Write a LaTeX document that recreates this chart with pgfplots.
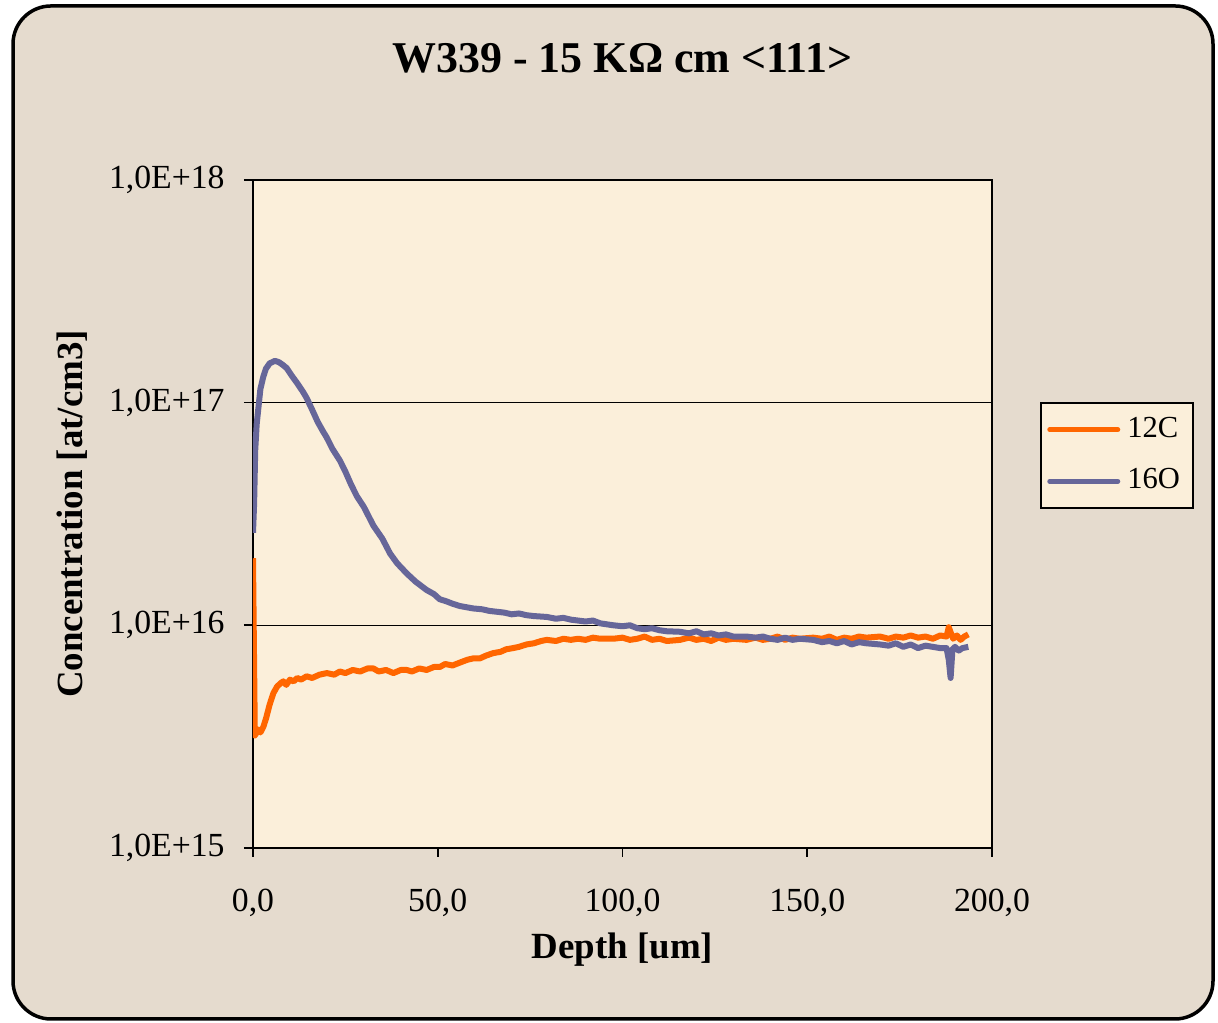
\documentclass[border=0pt]{standalone}
\usepackage{pgfplots}
\pgfplotsset{compat=1.18}
\usepackage{fontspec}
\setmainfont{Liberation Serif}
\definecolor{bgcol}{HTML}{E5DBCE}
\definecolor{plotbg}{HTML}{FBEFDA}
\definecolor{corange}{HTML}{FF6600}
\definecolor{oblue}{HTML}{666699}
\begin{document}
\begin{tikzpicture}
\path[use as bounding box] (0,0) rectangle (12.18cm,10.23cm);
\filldraw[fill=bgcol, draw=black, line width=0.035cm, rounded corners=0.38cm] (0.13cm,0.04cm) rectangle (12.13cm,10.17cm);
\begin{axis}[
  at={(2.53cm,1.75cm)}, anchor=south west,
  scale only axis, width=7.39cm, height=6.68cm,
  xmin=0, xmax=200, ymode=log, ymin=1e15, ymax=1e18,
  axis background/.style={fill=plotbg},
  axis line style={black, line width=0.8pt},
  xtick={0,50,100,150,200},
  xticklabels={{0,0},{50,0},{100,0},{150,0},{200,0}},
  ytick={1e15,1e16,1e17,1e18},
  yticklabels={{1,0E+15},{1,0E+16},{1,0E+17},{1,0E+18}},
  minor ytick={}, tick pos=left, tick align=outside,
  major tick length=0.09cm,
  every tick/.style={black, line width=0.5pt},
  ymajorgrids, major grid style={black, line width=0.4pt},
  log basis y=10,
  /pgf/number format/assume math mode=true,
  tick label style={font=\fontsize{9.6}{12}\selectfont},
  xticklabel style={yshift=-0.2cm},
  yticklabel style={xshift=-0.07cm},
  title={\textbf{W339 - 15 KΩ cm <111>}},
  title style={at={(axis description cs:0.5,1.151)}, anchor=center, font=\fontsize{12.5}{14}\selectfont},
  xlabel={\textbf{Depth [um]}},
  xlabel style={at={(axis description cs:0.5,-0.1527)}, anchor=center, font=\fontsize{10.5}{12}\selectfont},
  ylabel={\textbf{Concentration [at/cm3]}},
  ylabel style={at={(axis description cs:-0.245,0.5)}, anchor=center, rotate=0, font=\fontsize{10.5}{12}\selectfont},
  legend style={at={(1.065,0.668)}, anchor=north west, draw=black, line width=0.7pt, fill=plotbg,
    font=\fontsize{8.7}{10.5}\selectfont, inner xsep=0.06cm, inner ysep=0.07cm, row sep=0.12cm},
  legend cell align=left,
  legend image code/.code={\draw[#1, line width=0.05cm, line cap=round] (0cm,0cm) -- (0.68cm,0cm);},
]
\addplot[corange, line width=0.06cm, line join=round] coordinates {
(0.0,2.0e16) (0.5,0.32e16) (1.0,0.33e16) (1.5,0.34e16) (2.0,0.33e16) (2.8,0.35e16) (3.5,0.38e16)
(4.5,0.44e16) (5.5,0.495e16) (6.5,0.53e16) (7.5,0.55e16) (8.2,0.56e16) (9,0.54e16) (10,0.57e16)
(11,0.56e16) (12,0.58e16) (13,0.57e16) (14.5,0.59e16) (16,0.58e16) (18,0.60e16) (20,0.61e16)
(22,0.60e16) (23.5,0.62e16) (25,0.61e16) (27,0.63e16) (29,0.62e16) (31,0.64e16) (32.6,0.64e16)
(34,0.62e16) (36,0.63e16) (38,0.61e16) (40,0.63e16) (41.6,0.63e16) (43,0.62e16) (45,0.64e16)
(47,0.63e16) (49,0.65e16) (50.6,0.65e16) (52,0.67e16) (54,0.66e16) (56,0.68e16) (58,0.70e16)
(59.6,0.71e16) (61.4,0.71e16) (63,0.73e16) (65,0.75e16) (67,0.76e16) (68.5,0.78e16) (70.4,0.79e16)
(72,0.80e16) (74,0.82e16) (76,0.83e16) (78,0.85e16) (79.5,0.86e16) (82,0.85e16) (84,0.87e16)
(86,0.86e16) (88,0.87e16) (90,0.86e16) (92,0.88e16) (94,0.87e16) (97.5,0.87e16) (100,0.88e16)
(102,0.86e16) (104,0.87e16) (106,0.89e16) (108,0.86e16) (110,0.87e16) (112,0.85e16) (115.6,0.86e16)
(118,0.88e16) (120,0.86e16) (122,0.87e16) (124,0.85e16) (126,0.88e16) (128,0.86e16) (130,0.87e16)
(133.6,0.86e16) (136,0.88e16) (138,0.86e16) (140,0.87e16) (142,0.89e16) (144,0.86e16) (146,0.88e16)
(148,0.87e16) (151.6,0.88e16) (154,0.87e16) (156,0.89e16) (158,0.86e16) (160,0.88e16) (162,0.87e16)
(164,0.89e16) (166,0.88e16) (169.7,0.89e16) (172,0.87e16) (174,0.89e16) (176,0.88e16) (178,0.90e16)
(180,0.88e16) (182,0.89e16) (184,0.87e16) (186,0.90e16) (187.7,0.89e16) (188.3,0.98e16) (188.8,0.93e16)
(189.5,0.87e16) (190.5,0.90e16) (191.5,0.86e16) (192.5,0.89e16) (193.6,0.91e16)
};
\addlegendentry{12C}
\addplot[oblue, line width=0.06cm, line join=round] coordinates {
(0.0,2.6e16) (0.3,3.5e16) (0.6,6.1e16) (1.0,8.0e16) (1.5,9.6e16) (2.0,11.5e16) (2.8,13.1e16)
(3.5,14.2e16) (4.5,15.0e16) (5.9,15.4e16) (7.0,15.2e16) (8.0,14.8e16) (9.1,14.3e16) (10.5,13.2e16)
(12.0,12.2e16) (13.5,11.2e16) (14.5,10.5e16) (16,9.3e16) (17.5,8.2e16) (19,7.4e16) (19.9,7.0e16)
(21.5,6.2e16) (23.5,5.5e16) (25,4.9e16) (26.5,4.3e16) (28.1,3.8e16) (30,3.4e16) (32.6,2.8e16)
(35,2.45e16) (37.1,2.1e16) (39,1.9e16) (41.6,1.71e16) (44,1.57e16) (47,1.44e16) (49,1.38e16)
(50.5,1.31e16) (52.4,1.28e16) (54,1.25e16) (56,1.22e16) (59.6,1.19e16) (62,1.18e16) (64,1.16e16)
(66,1.15e16) (68,1.14e16) (70,1.12e16) (72,1.13e16) (74,1.11e16) (76,1.10e16) (79.5,1.09e16)
(82,1.07e16) (84,1.08e16) (86,1.06e16) (88,1.05e16) (90,1.04e16) (92,1.05e16) (94,1.02e16)
(97.5,1.00e16) (100,0.99e16) (102,1.00e16) (104,0.97e16) (106,0.96e16) (108,0.97e16) (110,0.95e16)
(112,0.94e16) (115.6,0.935e16) (118,0.92e16) (120,0.94e16) (122,0.91e16) (124,0.92e16) (126,0.90e16)
(128,0.91e16) (130,0.89e16) (133.6,0.89e16) (136,0.88e16) (138,0.89e16) (140,0.87e16) (142,0.86e16)
(144,0.88e16) (146,0.86e16) (148,0.87e16) (151.6,0.86e16) (154,0.84e16) (156,0.85e16) (158,0.83e16)
(160,0.85e16) (162,0.82e16) (164,0.84e16) (166,0.83e16) (169.7,0.82e16) (172,0.81e16) (174,0.83e16)
(176,0.80e16) (178,0.82e16) (180,0.79e16) (182,0.81e16) (184,0.80e16) (186,0.79e16) (187.7,0.79e16)
(188.3,0.70e16) (188.8,0.58e16) (189.3,0.78e16) (190,0.80e16) (191,0.77e16) (192,0.79e16) (193.6,0.80e16)
};
\addlegendentry{16O}
\end{axis}
\end{tikzpicture}
\end{document}
